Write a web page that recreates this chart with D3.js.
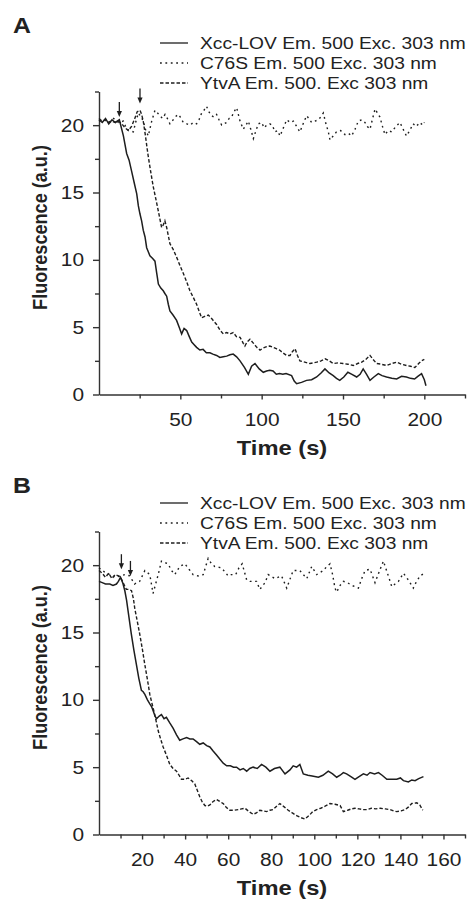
<!DOCTYPE html>
<html lang="en">
<head>
<meta charset="UTF-8">
<title>Fluorescence decay</title>
<style>
  * { margin: 0; padding: 0 }
  body { background: #fff; }
  svg { display: block; font-family: "Liberation Sans", Arial, sans-serif; }
</style>
</head>
<body>
<script src="https://d3js.org/d3.v7.min.js"></script>
<script>
// legend names, in the order solid / dotted / dashed
const seriesNames = [
  'Xcc-LOV Em. 500 Exc. 303 nm',
  'C76S Em. 500 Exc. 303 nm',
  'YtvA Em. 500. Exc 303 nm'
];
const yTicks = [0, 5, 10, 15, 20];
const aXTicks = [50, 100, 150, 200];
const bXTicks = [20, 40, 60, 80, 100, 120, 140, 160];

// panel A: [time (s), fluorescence]
const aXcc = [[0,20.4],[2,20.2],[4,20.5],[6,20.1],[8,20.4],[10,20.2],[12.5,20.4],[15,19.2],[17,17.9],[18.5,17.4],[20,16.6],[21.5,15.8],[23.2,14.9],[24.2,14.0],[25.2,13.4],[26.2,12.9],[27.2,12.2],[28.3,11.7],[29.3,10.9],[30.3,10.6],[31.3,10.3],[33,10.1],[34.4,9.9],[35.5,9.0],[36.5,8.2],[38,7.9],[39.5,7.7],[40.5,7.5],[41.6,7.3],[42.6,6.7],[43.6,6.2],[45.5,5.9],[47.7,5.5],[49.3,5.0],[50.8,4.5],[52.3,4.9],[53.9,4.75],[55.5,4.3],[57,3.9],[58.5,3.7],[60,3.5],[62,3.3],[64,3.35],[66,3.1],[68.2,3.1],[70,3.0],[72.3,2.9],[74.3,2.75],[76.4,2.8],[78.5,2.85],[80.5,2.95],[82.5,3.0],[84.6,2.8],[86.7,2.5],[89.5,2.0],[91.8,1.5],[93.8,2.1],[95.9,2.3],[98.5,1.9],[101,1.65],[103,1.75],[105,1.8],[107,1.75],[109,1.5],[111,1.55],[113,1.5],[115,1.55],[118.4,1.4],[120,1.0],[121.5,0.8],[124.5,0.9],[127.6,1.05],[130.7,1.1],[133.8,1.3],[136.5,1.6],[138.9,1.9],[141.5,1.6],[144,1.4],[146,1.2],[148,1.05],[150.5,1.3],[153,1.65],[155.5,1.5],[158.4,1.3],[160.5,1.5],[162.4,1.9],[164.5,1.5],[166.6,1.05],[169,1.3],[171.7,1.55],[174,1.4],[176.8,1.3],[180,1.2],[183,1.15],[186,1.35],[189,1.3],[191.5,1.2],[194,1.15],[196,1.35],[198.3,1.55],[200,1.1],[201,0.65]];
const aC76S = [[0,20.3],[3,20.4],[6,20.2],[9,20.5],[12,20.2],[15,20.3],[17,19.7],[19,19.6],[21.1,19.5],[22.5,20.2],[24.2,20.9],[26,20.6],[27.2,20.3],[28.8,19.6],[30.3,19.2],[32.4,20.3],[34.4,21.1],[36,20.9],[37.5,20.7],[39,20.5],[40.6,20.8],[42,20.5],[43.6,20.1],[45,20.3],[46.7,20.6],[48.7,20.8],[50,20.6],[51.8,20.2],[54,20.1],[55.9,20.0],[58,20.2],[60,20.1],[61.5,20.4],[63.1,20.9],[64.5,21.1],[66.1,21.4],[67.5,21.0],[69.2,20.7],[70.7,20.6],[72.3,20.8],[73.8,20.4],[75.4,20.0],[77,20.1],[78.4,20.2],[80,20.5],[81.5,20.6],[83,21.0],[84.6,21.3],[86.7,20.3],[88.7,19.7],[90.3,20.0],[91.8,20.3],[93.3,19.7],[94.9,19.0],[96.5,19.6],[98,20.1],[100,20.2],[101.5,19.8],[103,20.0],[105,20.1],[106.5,20.0],[108.2,19.5],[109.7,19.6],[111.3,19.2],[113,19.7],[115.4,20.4],[117.5,20.2],[119.5,20.3],[121.5,19.9],[123.5,19.5],[125.5,20.1],[127.6,20.7],[129,20.5],[130.7,20.2],[132.8,20.3],[134.8,20.4],[136.3,20.6],[137.9,20.9],[139.5,20.1],[141,19.5],[142,18.9],[144,19.2],[146,19.5],[148.5,19.6],[151.2,19.3],[153.3,19.4],[155.3,19.2],[157.4,19.7],[159.4,20.3],[161.5,20.4],[163.5,20.2],[165,19.9],[166.6,19.7],[168,20.4],[169.7,21.2],[171.2,20.9],[172.7,20.6],[174.3,19.9],[175.8,19.3],[177.8,19.6],[179.9,19.5],[182.5,19.9],[185,20.2],[187,19.7],[189,19.2],[191,19.6],[193.1,20.1],[195,19.9],[197.2,20.2],[199,20.0],[200,20.2]];
const aYtvA = [[0,20.5],[2,20.3],[4,20.4],[6,20.2],[8,20.3],[10,20.2],[12,20.3],[14,20.1],[16,19.8],[18,19.6],[20,19.9],[22,20.5],[23.5,21.0],[25.2,21.1],[26.2,20.8],[27.2,20.3],[28.2,19.5],[28.9,18.9],[30,17.9],[31.3,16.9],[32.4,16.1],[33.4,15.4],[35.5,14.2],[37,13.3],[38.5,12.4],[39.5,12.6],[40.5,12.9],[41.6,12.4],[43.6,11.2],[45.5,10.8],[47.7,10.2],[49.7,9.6],[51.8,9.0],[53.8,8.4],[55.9,7.7],[58,7.2],[60,6.7],[61.5,6.2],[63.1,5.7],[65,5.8],[67.2,5.9],[69.5,5.6],[72.3,5.2],[74.3,4.8],[76.4,4.5],[78.5,4.6],[80.5,4.5],[82.5,4.6],[84.5,4.3],[86.7,4.25],[88.7,3.8],[89.7,3.6],[91,3.9],[92.8,4.1],[95,3.8],[97,3.5],[99,3.3],[101,3.45],[103,3.55],[105,3.6],[107,3.5],[109,3.4],[111,3.3],[113,3.1],[115.4,2.9],[117.4,2.9],[119,3.2],[120.5,3.4],[122,2.9],[123.5,2.5],[126.5,2.4],[129.7,2.3],[131.8,2.35],[133.8,2.4],[136.5,2.5],[139,2.65],[141.5,2.5],[144,2.3],[147,2.35],[150,2.3],[153,2.25],[156.3,2.15],[159,2.3],[161.5,2.4],[164,2.6],[166.6,2.9],[168.5,2.6],[170.7,2.3],[173.5,2.25],[176.8,2.15],[180,2.3],[183,2.4],[186,2.25],[189,2.15],[191.5,2.1],[194.2,2.0],[196.5,2.3],[198.3,2.5],[200,2.6]];
const aArrows = [[12.5, 20.6], [25.2, 21.6]];

// panel B
const bXcc = [[0,18.8],[1.5,18.7],[3,18.6],[5,18.6],[6.5,18.5],[8.1,18.6],[9,18.8],[10,19.1],[11,18.7],[12,18.1],[12.8,17.4],[13.5,16.6],[14.3,15.7],[15,14.9],[16.2,13.7],[17.4,12.6],[18.5,11.6],[19.7,10.7],[20.5,10.6],[21.3,10.4],[22.5,10.0],[23.6,9.7],[24.4,9.5],[25.1,9.2],[26,8.8],[26.7,8.6],[28,8.8],[29,8.9],[30.2,8.6],[31.3,8.7],[32.8,8.3],[34.4,7.9],[36,7.4],[37.5,7.0],[39,7.1],[40.7,7.2],[42.2,7.1],[43.7,7.1],[45.3,6.9],[46.8,6.7],[48.4,6.8],[50,6.6],[51.5,6.5],[53,6.2],[54.6,5.9],[56.1,5.6],[57.7,5.3],[59.3,5.1],[61,5.1],[62.5,5.0],[63.9,5.0],[65.5,4.8],[67,4.9],[68.6,4.7],[70,4.9],[71.6,5.0],[73.5,4.9],[75.5,5.2],[77.5,5.0],[79.4,4.7],[81.5,4.9],[84,5.0],[86.4,4.5],[88.7,4.8],[90.2,5.1],[91.8,5.0],[93.3,5.2],[94.9,4.5],[97,4.4],[99,4.35],[101.9,4.25],[104,4.4],[106.5,4.7],[108.5,4.5],[110.4,4.25],[112,4.4],[113.5,4.6],[115,4.5],[117,4.3],[118.9,4.1],[120.8,4.3],[122.8,4.5],[124.5,4.4],[125.9,4.6],[128,4.5],[129.8,4.6],[131.5,4.4],[133.7,4.1],[136,4.1],[138.3,4.1],[140,4.2],[141.4,4.0],[143.7,3.9],[145.3,4.05],[146.8,4.0],[148.5,4.15],[150.7,4.3]];
const bC76S = [[0,19.8],[2.5,19.5],[5,19.3],[7.5,19.1],[9.6,19.2],[12,19.3],[14.3,19.2],[16.5,18.6],[18.9,18.8],[21.3,19.6],[23.6,19.3],[25.1,17.9],[27.5,19.3],[29,20.3],[30.5,20.2],[32.1,20.1],[33.7,19.6],[35.2,19.3],[37.5,19.9],[39.9,20.1],[41.8,19.7],[43.7,19.3],[46,19.2],[48.4,19.3],[50.7,20.5],[52.3,20.1],[53.8,19.9],[56.9,19.8],[58.5,19.5],[60,19.2],[61.5,19.3],[63.5,19.3],[65,19.8],[66.5,20.1],[68.6,18.9],[70.1,18.8],[71.6,18.8],[73.2,18.8],[74.7,18.2],[77.1,18.7],[78.6,19.3],[81.7,19.0],[84.8,19.2],[87.2,18.3],[88.8,19.0],[90.2,19.6],[93.3,19.6],[96.5,19.0],[98.8,19.9],[101.1,19.3],[104.2,19.6],[105.8,19.9],[107.3,20.1],[108.5,19.3],[109.6,18.3],[110.4,18.0],[112,18.5],[113.5,18.8],[115.4,18.7],[117.4,18.5],[119,18.4],[120.5,18.3],[122,19.0],[123.6,19.6],[125.9,19.7],[128.2,18.7],[130.6,19.7],[132.1,20.3],[134.4,19.2],[136,18.4],[137.5,18.6],[139.1,18.8],[141.4,19.4],[143.7,18.9],[146,18.3],[147.5,18.8],[149.2,19.2],[151,19.4]];
const bYtvA = [[0,19.6],[1.5,19.4],[3,19.1],[4.5,19.4],[6,19.0],[7.5,19.3],[9,19.2],[10,19.1],[11.2,18.7],[12.7,18.2],[14,18.2],[15.1,18.1],[16,17.5],[16.6,16.8],[17.7,15.9],[18.9,14.9],[20.1,13.8],[21.3,12.6],[22.5,11.5],[23.6,10.4],[24.8,9.6],[25.9,8.9],[26.7,8.3],[27.5,7.7],[28.6,7.1],[29.8,6.5],[31.3,5.9],[32.9,5.2],[34.4,4.9],[36,4.7],[37.2,4.4],[38.3,4.1],[39.9,4.1],[41.4,4.2],[43,4.0],[44.5,3.75],[45.6,3.3],[46.8,2.8],[48,2.4],[49.2,2.15],[50.3,2.1],[51.5,2.2],[53,2.45],[54.6,2.6],[56.1,2.45],[57.7,2.3],[59.2,2.0],[60.8,1.8],[62.8,1.8],[64.7,1.85],[66.2,1.9],[67.8,1.95],[69.7,1.7],[71.6,1.5],[73.1,1.6],[74.7,1.8],[76.3,1.75],[77.9,1.7],[79.4,1.8],[80.9,1.85],[82.5,2.1],[84,2.3],[86,2.05],[87.9,1.8],[89.8,1.6],[91.8,1.4],[93.8,1.25],[95.7,1.15],[97.5,1.4],[99.3,1.7],[101.1,1.85],[103,1.95],[105,2.1],[107.3,2.3],[109.6,2.25],[112,2.15],[113.5,1.7],[115.5,1.8],[117.2,1.9],[118.9,1.95],[120.8,1.9],[122.6,1.85],[124.4,1.85],[126.5,1.95],[128.6,1.9],[130.6,1.95],[133,1.9],[135.2,1.85],[136.8,1.75],[138.3,1.7],[140.3,1.75],[142.2,1.85],[143.8,2.05],[145.3,2.3],[147.6,2.35],[149,2.2],[150.4,1.8]];
const bArrows = [[10.4, 19.7], [14.6, 19.2]];

const SX = 1.13; // the source figure is stretched a bit horizontally
const ink = '#1e1e1e', axisInk = '#333';
const dashes = [null, '1.8,3.6', '3.5,2'];

const svg = d3.select('body').append('svg')
  .attr('width', 468)
  .attr('height', 901);

function stext(g, x, y, str, size, weight, anchor) {
  return g.append('text')
    .attr('transform', `translate(${x},${y}) scale(${SX},1)`)
    .attr('text-anchor', anchor || 'start')
    .style('font-size', size + 'px')
    .style('font-weight', weight || 'normal')
    .style('fill', '#222')
    .text(str);
}

function drawPanel(p) {
  const x = d3.scaleLinear().domain([0, p.xMax]).range([99, 465]);
  const y = d3.scaleLinear().domain([0, 22.5]).range([p.bottom, p.bottom - 303]);
  const g = svg.append('g');

  // minor ticks first
  g.append('g').attr('transform', 'translate(99,0)')
    .call(d3.axisLeft(y).tickValues(d3.range(2.5, 23, 5)).tickSize(4).tickFormat(''))
    .call(a => a.select('.domain').remove());
  g.append('g').attr('transform', `translate(0,${p.bottom})`)
    .call(d3.axisBottom(x).tickValues(d3.range(p.xMinor, p.xMax + 1, p.xMinor * 2)).tickSize(4).tickFormat(''))
    .call(a => a.select('.domain').remove());

  const ya = g.append('g').attr('transform', 'translate(99,0)')
    .call(d3.axisLeft(y).tickValues(yTicks).tickSize(6).tickSizeOuter(0));
  const xa = g.append('g').attr('transform', `translate(0,${p.bottom})`)
    .call(d3.axisBottom(x).tickValues(p.xTicks).tickSize(5).tickSizeOuter(0).tickPadding(13));

  g.selectAll('.tick line, .domain').attr('stroke', axisInk).attr('stroke-width', 1.4);
  ya.selectAll('text').attr('x', -15 / SX);
  g.selectAll('.tick text')
    .attr('transform', `scale(${SX},1)`)
    .style('font-size', '18.5px')
    .style('font-family', '"Liberation Sans", Arial, sans-serif')
    .attr('fill', '#222');

  // series
  const line = d3.line().x(d => x(d[0])).y(d => y(d[1]));
  p.series.forEach((s, i) => {
    g.append('path')
      .attr('d', line(s))
      .attr('fill', 'none')
      .attr('stroke', ink)
      .attr('stroke-width', i == 0 ? 1.5 : 1.4)
      .attr('stroke-dasharray', dashes[i]);
  });

  // light-on arrows
  p.arrows.forEach(a => {
    const ax = x(a[0]), ay = y(a[1]);
    g.append('line')
      .attr('x1', ax).attr('x2', ax)
      .attr('y1', ay - 15).attr('y2', ay - 5)
      .attr('stroke', ink).attr('stroke-width', 1.3);
    g.append('path')
      .attr('d', `M${ax - 2.6},${ay - 6}L${ax + 2.6},${ay - 6}L${ax},${ay}Z`)
      .attr('fill', ink);
  });

  // legend
  seriesNames.forEach((n, i) => {
    const by = p.legendY + i * 20;
    g.append('line')
      .attr('x1', 160).attr('x2', 188)
      .attr('y1', by - 6.3).attr('y2', by - 6.3)
      .attr('stroke', ink).attr('stroke-width', 1.3)
      .attr('stroke-dasharray', dashes[i]);
    stext(g, 200, by, n, 17);
  });

  stext(g, 13, p.letterY, p.letter, 22, 'bold');
  stext(g, 282, p.bottom + 60.5, 'Time (s)', 21, 'bold', 'middle');
  g.append('text')
    .attr('transform', `translate(47,${p.bottom - 167}) rotate(-90) scale(1,${SX})`)
    .attr('text-anchor', 'middle')
    .style('font-size', '18.1px')
    .style('font-weight', 'bold')
    .style('fill', '#222')
    .text('Fluorescence (a.u.)');
}

drawPanel({
  letter: 'A', letterY: 33.3, legendY: 49.3, bottom: 394.5,
  xMax: 225, xMinor: 25, xTicks: aXTicks,
  series: [aXcc, aC76S, aYtvA], arrows: aArrows
});
drawPanel({
  letter: 'B', letterY: 493.3, legendY: 509.3, bottom: 834.5,
  xMax: 170, xMinor: 10, xTicks: bXTicks,
  series: [bXcc, bC76S, bYtvA], arrows: bArrows
});
</script>
</body>
</html>
